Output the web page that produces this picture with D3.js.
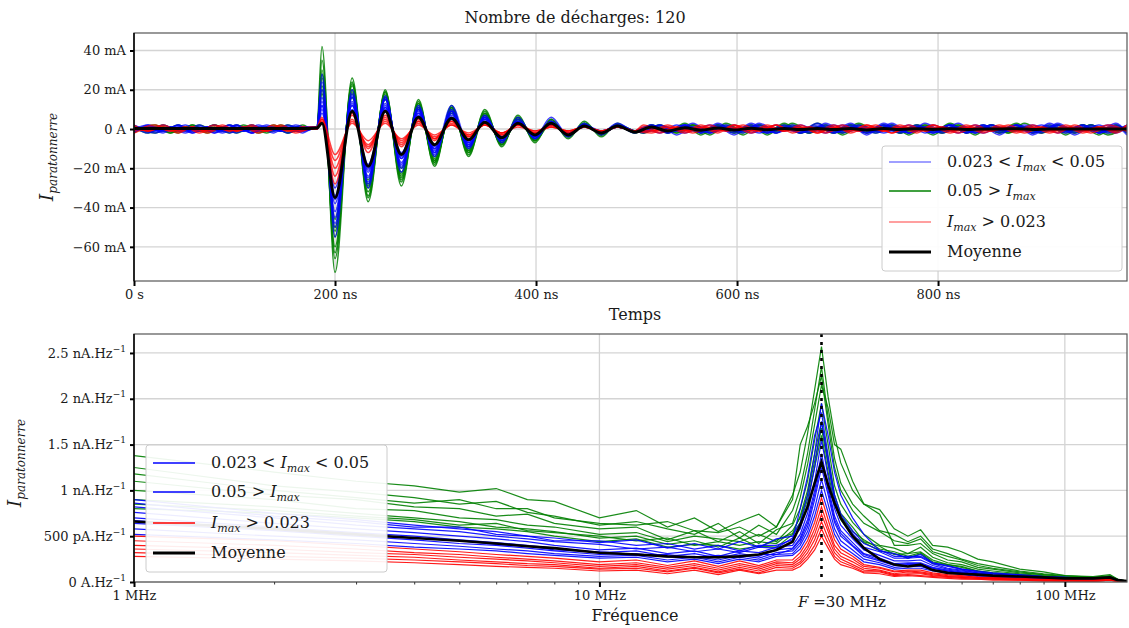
<!DOCTYPE html>
<html><head><meta charset="utf-8">
<script src="https://cdn.jsdelivr.net/npm/d3@7"></script>
<style>
body{margin:0;background:#fff}
svg{display:block}
text{font-family:"DejaVu Serif","Liberation Serif",serif;fill:#1a1a1a}
</style>
</head><body>
<svg id="c" width="1129" height="628"></svg>
<script>
// ---------- DATA ----------
const titleText = "Nombre de décharges: 120";
const timeNs = [0,14,29,44,58,73,88,102,117,132,146,161,175,
 182,187,200,217,233,250,266,283,299,316,333,349,366,382,399,415,432,448,465,481,498,
 515,531,548,564,581,597,614,630,647,663,680,696,713,729,746,762,779,795,812,828,845,861,878,894,911,927,944,960,977,988];
const timeNsAlt = [0,21,36,51,65,80,95,109,124,139,153,168,177,
 182,187,200,217,233,250,266,283,299,316,333,349,366,382,399,415,432,448,465,481,498,
 507,523,540,556,573,589,606,622,639,655,672,688,705,721,738,754,771,787,804,820,837,853,870,886,903,919,936,952,969,988];
const meanTime = [.3,.3,.3,.3,.3,.3,.3,.3,.3,.3,.3,.3,.3,
 .5,3,-35,9,-19,9,-13,6,-8,5.5,-5.5,3.5,-4.5,3,-3,3,-3,1.5,-2,1.5,-1.5,
 1,-1,.6,-.6,.5,-.5,.4,-.4,.3,-.3,.3,-.3,.3,-.5,.3,-.3,.2,-.2,.2,-.2,0,0,.2,-.2,0,0,0,0,0,0];
const greenTime = [
 [1,-1,2,-1,1,-2,1,-1,2,-1,1,-1,0, 1,42,-73,26,-37,20,-29,15,-19,12,-14,10,-9,7,-7,5,-5,4,-4,3,-2, 2,-2,3,-2,1,-2,2,-3,2,-1,1,-2,2,-1,2,-2,1,-3,2,-1,2,-2,1,-1,2,-3,2,-1,2,-2],
 [-1,2,-2,1,-1,1,-2,2,-1,1,-2,1,0, 0,30,-66,24,-35,19,-27,14,-17,11,-12,9,-8,6,-6,5,-4,3,-3,2,-2, -1,2,-2,1,-3,2,-1,2,-2,3,-1,1,-2,2,-1,2,-3,1,-1,2,-2,1,-2,3,-1,2,-1,2,-2,1],
 [2,-1,1,-2,2,-1,1,-1,1,-2,1,-1,1, 1,22,-60,22,-32,17,-24,13,-16,10,-11,8,-8,6,-5,4,-4,3,-3,2,-1, 1,-1,2,-3,2,-1,1,-2,3,-2,1,-1,2,-2,1,-1,2,-2,3,-1,1,-2,2,-1,1,-2,1,-3,2,-1],
 [0,1,-1,1,-1,2,-1,1,-2,1,-1,2,0, 0,35,-55,20,-30,18,-26,12,-18,11,-13,7,-7,5,-6,3,-3,2,-2,2,-1, -2,1,-1,2,-2,3,-1,1,-1,2,-2,2,-3,1,-2,1,-1,2,-1,2,-3,2,-1,1,-2,2,-1,2,-1,1],
 [-2,1,-1,2,-1,1,-1,2,-1,1,-1,1,0, 0,18,-50,18,-28,15,-22,11,-14,9,-10,7,-6,5,-5,4,-3,2,-2,1,-1, 1,-2,1,-1,2,-1,2,-2,1,-2,3,-1,1,-2,2,-2,1,-1,2,-2,1,-1,3,-2,1,-1,2,-1,1,-2],
 [1,-2,1,-1,2,-1,2,-1,1,-1,2,-1,1, 1,26,-46,16,-26,16,-20,10,-15,8,-9,6,-7,4,-4,3,-3,2,-2,1,-1, -1,1,-2,2,-1,1,-3,2,-1,1,-2,2,-1,3,-1,2,-2,1,-2,1,-1,2,-2,1,-1,2,-2,1,-3,2],
 [1,-2,1,-1,2,-1,1,-2,1,-1,2,-1,0, 0,28,-63,23,-34,19,-25,13,-17,11,-12,8,-8,6,-6,4,-4,3,-3,2,-1, 2,-1,1,-2,2,-2,1,-1,2,-2,1,-2,2,-1,1,-2,2,-1,2,-2,1,-1,2,-2,1,-1,2,-2,1,-1],
 [-1,1,-2,1,-1,2,-1,1,-1,2,-2,1,0, 1,20,-52,19,-29,16,-23,11,-16,9,-11,7,-7,5,-5,4,-3,2,-2,2,-1, -2,2,-1,2,-1,1,-2,2,-1,1,-2,1,-2,2,-1,1,-1,2,-2,1,-1,2,-1,1,-2,1,-2,2,-1,1]
];
const blueTime = [
 [-1,1,-2,2,-1,1,-1,2,-2,1,-1,1,0, 1,28,-55,20,-30,17,-22,12,-14,10,-10,7,-7,6,-5,4,-4,3,-3,2,-2, 2,-1,2,-2,3,-1,1,-2,1,-2,1,-1,2,-3,2,-1,1,-2,1,-1,2,-2,1,-2,3,-1,2,-2,1,-1],
 [2,-1,1,-1,2,-2,1,-1,1,-2,2,-1,0, 0,20,-50,18,-28,16,-20,11,-13,9,-9,6,-6,5,-5,4,-3,2,-2,2,-1, -2,2,-1,1,-2,1,-2,3,-1,1,-2,3,-1,1,-1,2,-2,1,-1,3,-2,1,-1,2,-1,2,-3,1,-2,2],
 [-2,2,-1,1,-1,1,-2,1,-1,2,-1,1,1, 1,12,-45,16,-25,15,-18,10,-12,12,-8,6,-5,4,-4,6,-3,2,-2,3,-1, 1,-2,2,-1,1,-3,2,-1,2,-1,1,-2,1,-2,3,-1,2,-1,2,-2,1,-3,2,-1,1,-1,2,-2,2,-1],
 [1,-1,1,-2,1,-2,2,-1,1,-1,1,-2,0, 0,16,-42,14,-24,13,-17,9,-11,8,-8,5,-5,4,-4,3,-3,2,-2,1,-1, -1,1,-1,3,-2,1,-1,2,-2,1,-1,2,-2,1,-2,1,-2,3,-1,1,-1,2,-1,1,-2,3,-1,1,-1,2],
 [0,2,-1,1,-2,1,-1,2,-2,1,-1,2,0, 0,10,-38,13,-22,12,-15,8,-10,7,-7,5,-5,3,-3,3,-2,2,-1,1,-1, 2,-2,1,-1,1,-2,3,-1,1,-2,2,-1,3,-2,1,-2,1,-1,2,-1,2,-1,2,-3,1,-2,1,-1,3,-2],
 [-1,1,-1,2,-1,2,-2,1,-1,1,-2,1,1, 1,14,-34,12,-20,11,-14,7,-9,6,-6,4,-4,3,-3,2,-2,1,-1,1,-1, -1,2,-3,1,-1,2,-1,1,-2,2,-1,1,-1,2,-1,3,-2,1,-2,1,-2,2,-1,1,-1,2,-2,2,-1,1],
 [1,-2,2,-1,1,-1,1,-2,2,-1,1,-1,0, 0,8,-30,10,-18,10,-12,6,-8,5,-6,4,-4,3,-3,2,-2,1,-1,1,-1, 1,-1,2,-2,2,-1,1,-2,1,-1,3,-2,1,-1,2,-1,1,-2,2,-2,1,-1,2,-2,2,-1,1,-2,1,-3],
 [1,-2,1,-1,1,-1,2,-1,2,-1,1,-1,0, 1,24,-48,17,-27,15,-19,10,-12,9,-9,6,-6,4,-4,3,-3,2,-2,1,-1, 1,-2,2,-1,2,-1,1,-2,2,-1,1,-2,2,-1,1,-1,2,-2,1,-2,2,-1,1,-1,2,-2,1,-1,2,-1],
 [-1,1,-1,2,-2,1,-1,1,-2,1,-1,1,0, 0,12,-36,12,-21,11,-15,8,-10,6,-7,5,-4,3,-3,2,-2,1,-1,1,-1, -1,1,-2,1,-1,2,-2,1,-1,2,-1,2,-1,1,-2,1,-1,2,-1,1,-2,1,-1,2,-1,1,-1,2,-2,1]
];
const redTime = [
 [2,-1,1,-1,1,-2,1,-1,1,-1,2,-1,0, 1,6,-28,8,-12,7,-9,5,-6,4,-4,3,-3,3,-2,2,-2,1,-2,1,-1, -1,2,-1,1,-2,2,-1,1,-1,2,-2,1,-1,2,-1,1,-2,2,-1,1,-2,1,-1,2,-1,1,-2,1,-1,2],
 [-1,2,-1,1,-2,1,-1,1,-1,2,-1,1,0, 0,5,-24,7,-10,6,-8,4,-5,4,-4,3,-3,2,-2,2,-2,1,-1,1,-1, 2,-1,1,-2,1,-1,2,-1,2,-1,1,-2,1,-1,2,-2,1,-1,1,-2,1,-1,2,-1,1,-2,2,-1,2,-1],
 [1,-1,2,-1,1,-1,2,-1,1,-1,1,-1,1, 1,4,-20,5,-9,5,-7,4,-5,3,-3,2,-2,2,-2,1,-1,1,-1,1,-1, -1,1,-2,1,-1,2,-1,2,-1,1,-1,2,-2,1,-1,1,-1,2,-1,2,-1,1,-2,1,-1,2,-1,1,-2,1],
 [-2,1,-1,1,-1,2,-1,1,-2,1,-1,1,0, 0,3,-16,4,-8,4,-6,3,-4,2,-3,2,-2,2,-1,1,-1,1,-1,1,-1, 1,-2,1,-1,2,-1,1,-1,2,-2,1,-1,2,-1,1,-2,2,-1,1,-1,2,-1,1,-2,1,-1,1,-2,1,-1],
 [1,-1,1,-2,1,-1,1,-1,2,-1,1,-2,0, 0,5,-13,3,-6,3,-5,2,-3,2,-2,2,-2,1,-1,1,-1,1,-1,1,-1, -2,1,-1,2,-1,1,-2,1,-1,1,-2,1,-1,2,-1,2,-1,1,-2,1,-1,2,-1,1,-2,1,-1,1,-1,2]
];
const timeTicks = [0,200,400,600,800];
const timeLabels = ["0 s","200 ns","400 ns","600 ns","800 ns"];
const currentTicks = [40,20,0,-20,-40,-60];
const currentLabels = ["40 mA","20 mA","0 A","\u221220 mA","\u221240 mA","\u221260 mA"];

const freqMHz = [1,2,3,4,5,6,7,8,10,12,14,16,18,20,22,24,26,27,28,29,30,31,32,33,35,37,40,43,46,49,52,56,60,65,70,80,90,100,115,125,130,136];
const meanSpec = [.66,.58,.52,.48,.45,.42,.39,.37,.32,.3,.28,.27,.27,.28,.3,.35,.44,.62,.82,1.08,1.31,1.06,.86,.7,.5,.37,.25,.19,.17,.19,.13,.1,.09,.08,.07,.06,.05,.04,.04,.05,.02,.01];
const greenSpec = [
 [1.38,1.2,1.1,1.05,.98,1.02,.9,.88,.7,.78,.6,.7,.55,.66,.74,.6,.95,1.2,1.62,2.1,2.57,2.02,1.6,1.3,1.0,.85,.79,.58,.5,.57,.4,.38,.33,.25,.22,.14,.11,.07,.06,.08,.03,.01],
 [1.25,1.05,.98,.92,.85,.88,.76,.72,.62,.66,.58,.52,.64,.48,.62,.52,.78,1.02,1.4,1.88,2.35,1.8,1.35,1.08,.85,.72,.56,.52,.44,.5,.36,.31,.25,.2,.17,.12,.09,.07,.05,.07,.03,.01],
 [1.1,.95,.9,.82,.8,.72,.74,.64,.58,.6,.46,.56,.44,.55,.42,.57,.64,.92,1.28,1.72,2.15,1.9,1.5,1.45,1.1,.85,.74,.4,.4,.42,.31,.24,.22,.16,.14,.1,.08,.06,.05,.06,.02,.01],
 [1.0,.9,.8,.78,.7,.68,.62,.6,.52,.54,.44,.5,.47,.44,.52,.44,.62,.8,1.1,1.55,1.95,1.5,1.05,.85,.65,.52,.4,.37,.31,.38,.27,.21,.19,.14,.12,.09,.07,.05,.04,.06,.02,.01],
 [.9,.82,.75,.7,.66,.6,.58,.55,.48,.5,.41,.45,.38,.48,.38,.46,.53,.72,1.0,1.4,1.75,1.35,.95,.75,.6,.44,.39,.3,.31,.33,.24,.19,.17,.12,.1,.08,.06,.05,.04,.05,.02,.01],
 [.8,.75,.7,.66,.6,.58,.55,.5,.44,.47,.38,.41,.4,.36,.39,.38,.52,.65,.9,1.25,1.6,1.2,.85,.68,.5,.43,.34,.31,.26,.31,.2,.18,.14,.12,.09,.07,.06,.04,.03,.05,.02,.01],
 [1.18,1.0,.92,.86,.9,.8,.8,.7,.64,.62,.66,.56,.54,.6,.5,.6,.9,1.5,1.7,1.95,2.25,1.72,1.25,1.0,.78,.64,.55,.45,.42,.47,.33,.28,.24,.18,.15,.11,.08,.06,.05,.06,.02,.01],
 [.85,.78,.72,.68,.62,.64,.56,.54,.5,.45,.48,.4,.44,.4,.44,.42,.56,.7,.95,1.32,1.68,1.28,.9,.72,.55,.46,.36,.33,.28,.32,.22,.19,.16,.12,.1,.08,.06,.04,.04,.05,.02,.01]
];
const blueSpec = [
 [.9,.75,.68,.62,.58,.55,.5,.48,.43,.46,.37,.42,.36,.44,.38,.47,.5,.65,.95,1.4,1.95,1.6,1.2,.95,.7,.52,.34,.31,.26,.3,.21,.18,.14,.12,.1,.08,.06,.05,.04,.05,.02,.01],
 [.82,.7,.62,.58,.55,.5,.47,.44,.41,.36,.38,.33,.36,.32,.38,.37,.48,.58,.85,1.25,1.75,1.3,.9,.7,.53,.38,.33,.26,.26,.27,.2,.15,.13,.1,.09,.07,.06,.04,.04,.05,.02,.01],
 [.76,.64,.58,.54,.5,.47,.44,.4,.35,.37,.31,.34,.28,.34,.32,.38,.4,.52,.75,1.1,1.55,1.15,.8,.62,.47,.35,.29,.23,.23,.24,.18,.14,.12,.1,.08,.06,.05,.04,.03,.05,.02,.01],
 [.7,.6,.54,.5,.46,.43,.4,.37,.32,.34,.28,.31,.26,.31,.28,.35,.37,.48,.68,1.0,1.4,1.05,.72,.56,.43,.31,.26,.2,.21,.21,.16,.13,.11,.09,.07,.06,.05,.04,.03,.04,.02,.01],
 [.64,.56,.5,.46,.42,.4,.37,.34,.3,.31,.27,.28,.24,.29,.26,.32,.34,.43,.6,.9,1.25,.95,.65,.5,.39,.28,.23,.18,.19,.19,.15,.12,.1,.08,.07,.05,.04,.03,.03,.04,.01,.01],
 [.58,.5,.46,.42,.39,.36,.34,.31,.28,.29,.24,.27,.22,.27,.24,.3,.31,.4,.55,.8,1.12,.85,.58,.45,.35,.25,.21,.16,.17,.17,.13,.11,.09,.07,.06,.05,.04,.03,.02,.04,.01,.01],
 [.52,.46,.42,.38,.36,.34,.31,.29,.26,.27,.22,.25,.2,.25,.22,.28,.29,.36,.5,.72,1.0,.76,.52,.4,.31,.22,.19,.14,.15,.15,.12,.1,.08,.06,.05,.04,.03,.03,.02,.03,.01,.01],
 [.86,.72,.66,.6,.6,.52,.5,.45,.45,.4,.42,.36,.4,.34,.4,.4,.46,.8,1.15,1.6,1.85,1.38,.95,.74,.56,.42,.35,.28,.28,.28,.21,.17,.14,.11,.09,.07,.06,.05,.04,.05,.02,.01],
 [.67,.58,.52,.48,.45,.41,.39,.35,.33,.3,.3,.27,.29,.27,.3,.3,.36,.46,.64,.95,1.32,1.0,.68,.53,.4,.3,.24,.19,.2,.2,.15,.12,.1,.08,.07,.05,.04,.03,.03,.04,.01,.01]
];
const redSpec = [
 [.5,.45,.4,.36,.33,.3,.28,.26,.22,.24,.18,.23,.17,.23,.18,.24,.24,.32,.45,.65,.92,.68,.46,.36,.28,.19,.16,.12,.13,.13,.1,.08,.07,.05,.05,.04,.03,.02,.02,.03,.01,0],
 [.45,.4,.36,.32,.3,.27,.25,.23,.19,.21,.16,.2,.15,.2,.16,.22,.21,.28,.4,.58,.82,.6,.4,.32,.25,.17,.15,.11,.12,.11,.09,.07,.06,.05,.04,.03,.03,.02,.02,.03,.01,0],
 [.4,.36,.32,.3,.27,.25,.23,.21,.17,.19,.14,.18,.13,.18,.14,.2,.19,.25,.36,.52,.74,.55,.36,.28,.22,.15,.13,.09,.11,.1,.08,.06,.05,.04,.04,.03,.02,.02,.01,.02,.01,0],
 [.36,.32,.29,.27,.24,.22,.2,.19,.15,.17,.12,.16,.11,.16,.12,.18,.17,.22,.32,.46,.66,.48,.32,.25,.19,.13,.12,.08,.09,.09,.07,.06,.05,.04,.03,.03,.02,.02,.01,.02,.01,0],
 [.32,.28,.26,.24,.22,.2,.18,.17,.14,.15,.11,.15,.1,.14,.1,.16,.15,.2,.28,.4,.58,.42,.28,.22,.17,.11,.11,.07,.08,.07,.06,.05,.04,.03,.03,.02,.02,.01,.01,.02,.01,0],
 [.28,.25,.23,.21,.19,.17,.16,.15,.12,.13,.09,.13,.08,.13,.09,.13,.13,.17,.25,.35,.5,.37,.25,.19,.15,.1,.09,.06,.07,.06,.05,.04,.03,.03,.02,.02,.01,.01,.01,.02,.01,0]
];
const specTicks = [0,0.5,1,1.5,2,2.5];
const specLabels = ["0 A.Hz","500 pA.Hz","1 nA.Hz","1.5 nA.Hz","2 nA.Hz","2.5 nA.Hz"];
const freqTicks = [1,10,100];
const freqLabels = ["1 MHz","10 MHz","100 MHz"];
const freqMinor = [2,3,4,5,6,7,8,9,20,40,50,60,70,80,90];
const markerFreq = 30;

// ---------- CHART ----------
const svg = d3.select("#c");
const L = 134, R = 1127;
const x1 = d3.scaleLinear().domain([0, 988]).range([L, R]);
const y1 = d3.scaleLinear().domain([-77.4, 48.9]).range([281, 33]);
const x2 = d3.scaleLog().domain([1, 136]).range([L, R]);
const y2 = d3.scaleLinear().domain([0, 2.707]).range([582, 334]);

const defs = svg.append("defs");
defs.append("clipPath").attr("id","cp1").append("rect").attr("x",L).attr("y",33).attr("width",R-L).attr("height",248);
defs.append("clipPath").attr("id","cp2").append("rect").attr("x",L).attr("y",334).attr("width",R-L).attr("height",248);

const gridCol = "#d4d4d4";
const g1 = svg.append("g");
g1.selectAll(".hg").data(currentTicks).join("line").attr("x1",L).attr("x2",R)
  .attr("y1",d=>y1(d)).attr("y2",d=>y1(d)).attr("stroke",gridCol).attr("stroke-width",1.3);
g1.selectAll(".vg").data(timeTicks.slice(1)).join("line").attr("y1",33).attr("y2",281)
  .attr("x1",d=>x1(d)).attr("x2",d=>x1(d)).attr("stroke",gridCol).attr("stroke-width",1.3);
const g2 = svg.append("g");
g2.selectAll(".hg").data(specTicks).join("line").attr("x1",L).attr("x2",R)
  .attr("y1",d=>y2(d)).attr("y2",d=>y2(d)).attr("stroke",gridCol).attr("stroke-width",1.3);
g2.selectAll(".vg").data(freqTicks.slice(1)).join("line").attr("y1",334).attr("y2",582)
  .attr("x1",d=>x2(d)).attr("x2",d=>x2(d)).attr("stroke",gridCol).attr("stroke-width",1.3);

// traces top
const lineOn = grid => d3.line().x((d,i)=>x1(grid[i])).y(d=>y1(d)).curve(d3.curveMonotoneX);
const p1 = svg.append("g").attr("clip-path","url(#cp1)");
function drawT(data, col, op){
  p1.append("g").selectAll("path").data(data).join("path")
    .attr("d",(d,i)=>lineOn(i%2 ? timeNsAlt : timeNs)(d))
    .attr("fill","none").attr("stroke",col).attr("stroke-opacity",op).attr("stroke-width",1.5);
}
drawT(greenTime,"#008000",0.85);
drawT(blueTime,"#0000ff",0.75);
drawT(redTime,"#ff0000",0.75);
p1.append("path").attr("d",lineOn(timeNs)(meanTime)).attr("fill","none").attr("stroke","#000").attr("stroke-width",3);

// traces bottom
const lineF = d3.line().x((d,i)=>x2(freqMHz[i])).y(d=>y2(d));
const p2 = svg.append("g").attr("clip-path","url(#cp2)");
function drawF(data, col, op){
  p2.append("g").selectAll("path").data(data).join("path").attr("d",lineF)
    .attr("fill","none").attr("stroke",col).attr("stroke-opacity",op).attr("stroke-width",1.2);
}
drawF(greenSpec,"#008000",0.9);
drawF(blueSpec,"#0000ff",0.9);
drawF(redSpec,"#ff0000",0.9);
p2.append("line").attr("x1",x2(markerFreq)).attr("x2",x2(markerFreq)).attr("y1",334).attr("y2",582)
  .attr("stroke","#000").attr("stroke-width",2.6).attr("stroke-dasharray","3,5");
p2.append("path").attr("d",lineF(meanSpec)).attr("fill","none").attr("stroke","#000").attr("stroke-width",2.6);

// frames
function frame(top,bot){
  svg.append("rect").attr("x",L).attr("y",top).attr("width",R-L).attr("height",bot-top)
    .attr("fill","none").attr("stroke","#555").attr("stroke-width",1.2);
  svg.append("line").attr("x1",L).attr("x2",L).attr("y1",top).attr("y2",bot).attr("stroke","#000").attr("stroke-width",1.5);
}
frame(33,281); frame(334,582);

function styleAxis(g){
  g.select(".domain").remove();
  g.selectAll(".tick line").attr("stroke","#000").attr("stroke-width",2);
  g.selectAll(".tick text").attr("font-size",13).attr("fill","#1a1a1a")
   .attr("font-family","'DejaVu Serif',serif");
}
svg.append("g").attr("transform",`translate(${L},0)`)
  .call(d3.axisLeft(y1).tickValues(currentTicks).tickSize(4).tickPadding(4).tickFormat((d,i)=>currentLabels[i]))
  .call(styleAxis);
svg.append("g").attr("transform","translate(0,281)")
  .call(d3.axisBottom(x1).tickValues(timeTicks).tickSize(5).tickPadding(4).tickFormat((d,i)=>timeLabels[i]))
  .call(styleAxis);
const ya2 = svg.append("g").attr("transform",`translate(${L},0)`)
  .call(d3.axisLeft(y2).tickValues(specTicks).tickSize(4).tickPadding(4).tickFormat((d,i)=>specLabels[i]))
  .call(styleAxis);
ya2.selectAll(".tick text").each(function(){
  d3.select(this).append("tspan").attr("dy",-6).attr("font-size",9).text("\u22121");
});
svg.append("g").attr("transform","translate(0,582)")
  .call(d3.axisBottom(x2).tickValues(freqTicks).tickSize(5).tickPadding(4).tickFormat((d,i)=>freqLabels[i]))
  .call(styleAxis);
svg.append("g").attr("transform","translate(0,582)")
  .call(d3.axisBottom(x2).tickValues(freqMinor).tickSize(2.5).tickFormat(""))
  .call(g=>{g.select(".domain").remove(); g.selectAll(".tick line").attr("stroke","#333").attr("stroke-width",1);});
const fl = svg.append("text").attr("x",798).attr("y",607).attr("font-size",15);
fl.append("tspan").attr("font-style","italic").text("F");
fl.append("tspan").text(" =30 MHz");

// titles
svg.append("text").attr("x",575).attr("y",23).attr("text-anchor","middle").attr("font-size",16).text(titleText);
svg.append("text").attr("x",635).attr("y",320).attr("text-anchor","middle").attr("font-size",16).text("Temps");
svg.append("text").attr("x",635).attr("y",621).attr("text-anchor","middle").attr("font-size",16).text("Fréquence");
function ylab(x,y){
  const t = svg.append("text").attr("transform",`translate(${x},${y}) rotate(-90)`).attr("text-anchor","middle");
  t.append("tspan").attr("font-style","italic").attr("font-size",19).text("I");
  t.append("tspan").attr("font-style","italic").attr("font-size",12).attr("dy",4).text("paratonnerre");
}
ylab(53,157); ylab(21,463);

// legends
function legend(x,y,w,h,rows,items){
  const g = svg.append("g");
  g.append("rect").attr("x",x).attr("y",y).attr("width",w).attr("height",h).attr("rx",3)
    .attr("fill","#fff").attr("fill-opacity",0.92).attr("stroke","#ccc");
  items.forEach((it,i)=>{
    const yy = rows[i];
    g.append("line").attr("x1",x+7).attr("x2",x+49).attr("y1",yy).attr("y2",yy)
      .attr("stroke",it.c).attr("stroke-opacity",it.o).attr("stroke-width",it.w);
    const t = g.append("text").attr("x",x+65).attr("y",yy+5).attr("font-size",16);
    it.parts.forEach(p=>{
      const s = t.append("tspan").text(p.t);
      if(p.i) s.attr("font-style","italic");
      if(p.sub){ s.attr("font-size",11).attr("dy",4); }
      if(p.up){ s.attr("dy",-4); }
    });
  });
}
const lab1 = [{t:"0.023 < "},{t:"I",i:1},{t:"max",i:1,sub:1},{t:" < 0.05",up:1}];
const lab2 = [{t:"0.05 > "},{t:"I",i:1},{t:"max",i:1,sub:1}];
const lab3 = [{t:"I",i:1},{t:"max",i:1,sub:1},{t:" > 0.023",up:1}];
const lab4 = [{t:"Moyenne"}];
legend(882,146,240,125,[162,191,222,252],[
  {c:"#0000ff",o:0.5,w:1.5,parts:lab1},{c:"#008000",o:1,w:1.3,parts:lab2},
  {c:"#ff0000",o:0.5,w:1.5,parts:lab3},{c:"#000",o:1,w:3,parts:lab4}]);
legend(146,445,241,127,[463,492,523,553],[
  {c:"#0000ff",o:1,w:1.3,parts:lab1},{c:"#0000ff",o:1,w:1.3,parts:lab2},
  {c:"#ff0000",o:1,w:1.3,parts:lab3},{c:"#000",o:1,w:3,parts:lab4}]);
</script>
</body></html>
